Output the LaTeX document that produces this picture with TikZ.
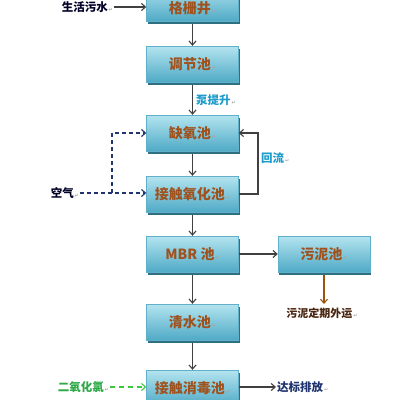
\documentclass[tikz,border=0pt]{standalone}
\usepackage{fontspec}
\setmainfont{Noto Sans CJK SC}
\newfontfamily\symfont{DejaVu Sans}
\usetikzlibrary{arrows.meta,calc}
\definecolor{boxtop}{HTML}{B4E4EF}
\definecolor{boxbot}{HTML}{4FAAC6}
\definecolor{boxedge}{HTML}{5FB0C8}
\definecolor{boxshadow}{HTML}{2F6F82}
\definecolor{boxtext}{HTML}{A0521E}
\definecolor{linegray}{HTML}{404040}
\definecolor{navy}{HTML}{1F3470}
\definecolor{cyanlab}{HTML}{1E9CCB}
\definecolor{greenlab}{HTML}{2DAA48}
\definecolor{greendash}{HTML}{3CC83C}
\definecolor{brownarrow}{HTML}{9A5410}
\definecolor{darkbrown}{HTML}{4A2510}
\newcommand{\rmark}{{\symfont\fontsize{5}{5}\selectfont\color{gray!70}\,↵}}
\tikzset{
  procbox/.style={rectangle, draw=boxedge, line width=0.4pt,
    top color=boxtop, bottom color=boxbot,
    minimum width=92pt, minimum height=36pt,
    font=\fontsize{14}{15}\selectfont\bfseries, text=boxtext,
    preaction={fill=boxshadow, transform canvas={xshift=1pt,yshift=-2.5pt}}},
  flow/.style={draw=linegray, line width=1.1pt, -{Straight Barb[length=4pt,width=7pt,line width=1.1pt]}},
  dflow/.style={draw=navy, line width=1.1pt, dashed, dash pattern=on 4pt off 3pt, -{Straight Barb[length=4pt,width=7pt,line width=1.1pt]}},
  gflow/.style={draw=greendash, line width=1.1pt, dash pattern=on 5pt off 4pt, -{Straight Barb[length=4pt,width=7pt,line width=1.1pt]}},
  lab/.style={font=\fontsize{11.5}{12}\selectfont\bfseries, inner sep=1pt}
}
\begin{document}
\begin{tikzpicture}[x=1pt,y=-1pt]
\useasboundingbox (0,0) rectangle (400,400);
\fill[white] (0,0) rectangle (400,400);
\begin{scope}
\clip (0,0) rectangle (400,400);
\node[procbox] (b1) at (192.5,3) {\raisebox{-10pt}[0pt][0pt]{格栅井\rmark}};
\node[procbox] (b2) at (192.5,64) {调节池\rmark};
\node[procbox] (b3) at (192.5,133) {缺氧池\rmark};
\node[procbox] (b4) at (192.5,194) {接触氧化池\rmark};
\node[procbox] (b5) at (192.5,254) {MBR 池\rmark};
\node[procbox] (b8) at (324,254) {污泥池\rmark};
\node[procbox] (b6) at (192.5,322) {清水池\rmark};
\node[procbox] (b7) at (192.5,388) {接触消毒池\rmark};
\end{scope}

\node[lab, text=black!85!blue, anchor=east] (src) at (114,7) {生活污水\rmark};
\draw[flow] (src.east) -- (src.east -| b1.west);

\draw[flow] ([yshift=-2.5pt]b1.south) -- (b2.north);
\draw[flow] ([yshift=-2.5pt]b2.south) -- (b3.north);
\node[lab, text=cyanlab, anchor=west] (pump) at (195,100) {泵提升\rmark};
\draw[flow] ([yshift=-2.5pt]b3.south) -- (b4.north);

\coordinate (rx) at (258,160);
\draw[flow] (b4.east) -| (rx) |- (b3.east);
\node[lab, text=cyanlab, anchor=west] (ret) at (260,158) {回流\rmark};

\node[lab, text=black!85!blue, anchor=east] (air) at (80,193) {空气\rmark};
\coordinate (ax) at (112,193);
\draw[dflow] (air.east) -- (air.east -| b4.west);
\draw[dflow] (ax) |- (b3.west);

\draw[flow] ([yshift=-2.5pt]b4.south) -- (b5.north);
\draw[flow] (b5.east) -- (b8.west);
\coordinate (sl) at (324,304);
\draw[draw=brownarrow, line width=1.1pt, -{Straight Barb[length=4pt,width=7pt,line width=1.1pt]}] ([yshift=-2.5pt]b8.south) -- (sl);
\node[font=\fontsize{11}{11}\selectfont\bfseries, text=darkbrown, inner sep=1pt] (out) at (322,313) {污泥定期外运\rmark};

\draw[flow] ([yshift=-2.5pt]b5.south) -- (b6.north);
\draw[flow] ([yshift=-2.5pt]b6.south) -- (b7.north);

\node[lab, text=greenlab, anchor=east] (clo) at (110,387) {二氧化氯\rmark};
\draw[gflow] (clo.east) -- (clo.east -| b7.west);

\node[lab, text=navy, anchor=west] (dis) at (276,387) {达标排放\rmark};
\draw[flow] (dis.west -| b7.east) -- (dis.west);
\end{tikzpicture}
\end{document}
